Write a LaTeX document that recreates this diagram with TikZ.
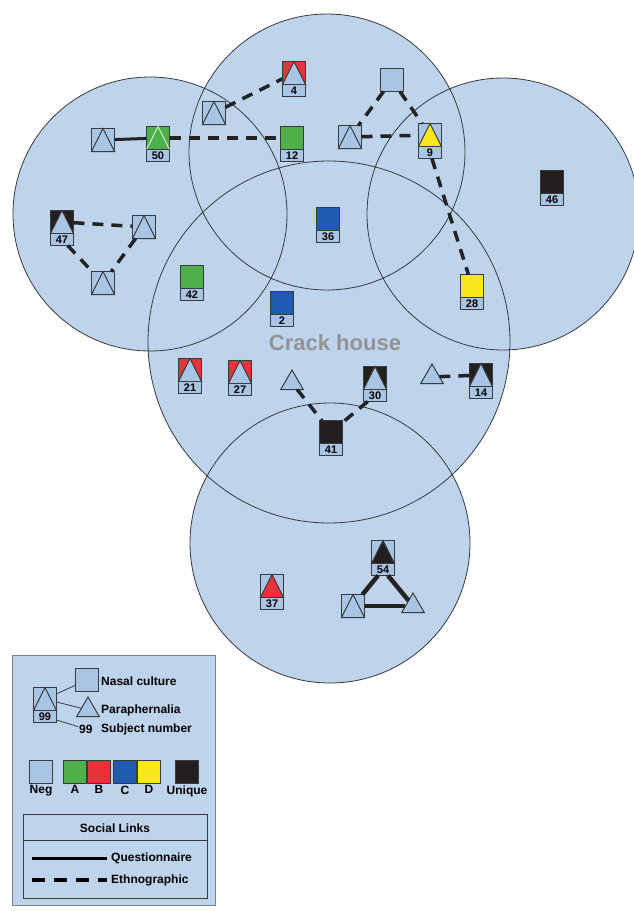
\documentclass[tikz,border=0pt]{standalone}
\usepackage{fontspec}
\setmainfont{Liberation Sans}
\usetikzlibrary{positioning,shapes.geometric}

\definecolor{zone}{HTML}{BDD4EC}
\definecolor{neg}{HTML}{A9C5E6}
\definecolor{grpA}{HTML}{4DB04A}
\definecolor{grpB}{HTML}{E8323A}
\definecolor{grpC}{HTML}{1F5BAE}
\definecolor{grpD}{HTML}{F7E71C}
\definecolor{uniq}{HTML}{231F20}
\definecolor{rim}{HTML}{3A3A3A}

% square, optional triangle, optional number box below
\newcommand\subject[5]{%
  \node[sq, fill=#3] (#1) at (#2) {};
  \if\relax\detokenize{#4}\relax\else
    \draw[tri, #4] (#1.south west) -- (#1.north) -- (#1.south east) -- cycle;
  \fi
  \if\relax\detokenize{#5}\relax\else
    \node[numbox, anchor=north] (#1n) at (#1.south) {#5};
  \fi}

\begin{document}
\begin{tikzpicture}[x=1pt, y=-1pt,
    sq/.style={rectangle, draw=rim, line width=1pt, minimum size=23, inner sep=0, outer sep=0},
    tri/.style={draw=rim, line width=1pt, line join=miter, fill=neg},
    numbox/.style={rectangle, draw=rim, fill=neg, line width=1pt, minimum width=23, minimum height=12,
      inner sep=0, outer sep=0, font=\bfseries\fontsize{11}{11}\selectfont},
    bare/.style={regular polygon, regular polygon sides=3, minimum size=26, inner sep=0, outer sep=0,
      draw=rim, fill=neg, line width=1pt},
    ethno/.style={line width=3.5pt, dash pattern=on 11pt off 8pt},
    quest/.style={line width=3pt},
    legtext/.style={font=\bfseries\fontsize{12}{12}\selectfont, inner sep=1pt}]
  \useasboundingbox (0,0) rectangle (634,911);

  % places
  \fill[zone] (150,214) circle[radius=137pt]
              (327,152) circle[radius=138pt]
              (503,214) circle[radius=136pt]
              (329,342) circle[radius=181pt]
              (330,543) circle[radius=140pt];
  \draw[rim, line width=0.8pt] (150,214) circle[radius=137pt]
              (327,152) circle[radius=138pt]
              (503,214) circle[radius=136pt]
              (329,342) circle[radius=181pt]
              (330,543) circle[radius=140pt];
  \node[font=\bfseries\fontsize{22}{22}\selectfont, text=black!42] (crack) at (335,343) {Crack house};

  % subjects
  \subject{A}{103,140}{neg}{fill=neg}{}
  \subject{n50}{158,138}{grpA}{fill=grpA, draw=white!75!grpA}{50}
  \subject{n12}{292,138}{grpA}{}{12}
  \subject{D}{214,113}{neg}{fill=neg}{}
  \subject{n4}{294,73}{grpB}{fill=neg}{4}
  \subject{E}{392,80}{neg}{}{}
  \subject{F}{350,137}{neg}{fill=neg}{}
  \subject{n9}{430,135}{neg}{fill=grpD}{9}
  \subject{n36}{328,219}{grpC}{}{36}
  \subject{n46}{552,182}{uniq}{}{46}
  \subject{n28}{472,286}{grpD}{}{28}
  \subject{n47}{62,222}{uniq}{fill=neg}{47}
  \subject{B}{144,227}{neg}{fill=neg}{}
  \subject{C}{103,283}{neg}{fill=neg}{}
  \subject{n42}{192,277}{grpA}{}{42}
  \subject{n2}{282,303}{grpC}{}{2}
  \subject{n21}{190,370}{grpB}{fill=neg}{21}
  \subject{n27}{240,372}{grpB}{fill=neg}{27}
  \node[bare] (G) at (292,383) {};
  \subject{n30}{375,378}{uniq}{fill=neg}{30}
  \node[bare] (H) at (432,377) {};
  \subject{n14}{481,375}{uniq}{fill=neg}{14}
  \subject{n41}{331,432}{uniq}{}{41}
  \subject{n37}{272,586}{neg}{fill=grpB}{37}
  \subject{n54}{383,552}{neg}{fill=uniq}{54}
  \subject{I}{353,606}{neg}{fill=neg}{}
  \node[bare] (J) at (413,606) {};

  % social links
  \begin{scope}[rim!60!black]
    \draw[quest] (A) to (n50);
    \draw[ethno] (n50) to (n12);
    \draw[ethno] (D) to (n4);
    \draw[ethno] (E) to (F);
    \draw[ethno] (E) to (n9);
    \draw[ethno] (F) to (n9);
    \draw[ethno] (n9n) to (n28);
    \draw[ethno] (n47) to (B);
    \draw[ethno] (n47n) to (C);
    \draw[ethno] (B) to (C);
    \draw[ethno] (G) to (n41);
    \draw[ethno] (n30n) to (n41);
    \draw[ethno] (H) to (n14);
    \draw[quest, line width=4.5pt] (n54n) to (I);
    \draw[quest, line width=4.5pt] (n54n) to (J);
    \draw[quest, line width=4.5pt] (I) to (J);
  \end{scope}

  % legend
  \filldraw[fill=zone, draw=gray, line width=0.8pt] (12,655) rectangle (215,905);
  \subject{key}{45,699}{neg}{fill=neg}{99}
  \node[sq, fill=neg] (nasal) at (87,680) {};
  \node[bare] (para) at (88,710) {};
  \node[legtext, anchor=west] (subjnum) at (78,729) {99};
  \draw[rim, line width=0.8pt] (key) to (nasal);
  \draw[rim, line width=0.8pt] (key) to (para);
  \draw[rim, line width=0.8pt] (keyn) to (subjnum);
  \node[legtext, anchor=west] (tnasal) at (100,681) {Nasal culture};
  \node[legtext, anchor=west] (tpara) at (100,710) {Paraphernalia};
  \node[legtext, anchor=west] (tsubj) at (100,729) {Subject number};
  \foreach \x/\c/\t in {41/neg/Neg, 75/grpA/A, 99/grpB/B, 125/grpC/C, 149/grpD/D, 187/uniq/Unique}
  {
    \node[sq, fill=\c] (k\t) at (\x,772) {};
    \node[legtext, below=1pt of k\t] (l\t) {\t};
  }
  \draw[rim, line width=0.8pt] (23,814) rectangle (207,898);
  \draw[rim, line width=0.8pt] (23,840) -- (207,840);
  \node[legtext] (links) at (115,828) {Social Links};
  \coordinate (q1) at (32,858);
  \coordinate (q2) at (107,858);
  \coordinate (e1) at (32,880);
  \coordinate (e2) at (107,880);
  \draw[quest] (q1) -- (q2);
  \draw[ethno, dash pattern=on 13pt off 9pt] (e1) -- (e2);
  \node[legtext, anchor=west] (tquest) at (110,858) {Questionnaire};
  \node[legtext, anchor=west] (tethno) at (110,880) {Ethnographic};
\end{tikzpicture}
\end{document}
